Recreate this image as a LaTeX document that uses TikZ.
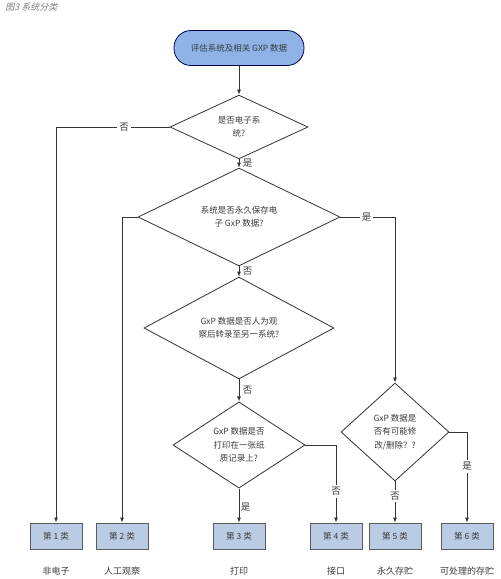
\documentclass[tikz,border=0pt]{standalone}
\usepackage{fontspec}
\setmainfont{Noto Sans CJK SC}
\newfontfamily\titlefont{Noto Sans CJK SC}[FakeSlant=0.25]
\usetikzlibrary{shapes.geometric,arrows.meta}
\definecolor{startblue}{HTML}{8FB3E6}
\definecolor{boxblue}{HTML}{BACCE4}
\definecolor{lineg}{HTML}{333333}
\definecolor{textg}{HTML}{3A3A3A}
\tikzset{
	arr/.style={-{Latex[length=5pt,width=4pt]}},
	ask/.style={diamond,draw=lineg,thick,inner sep=0pt,align=center,font=\fontsize{8.5}{13.5}\selectfont,text=textg},
	catbox/.style={rectangle,draw=lineg!80,thick,fill=boxblue,minimum width=52pt,minimum height=26pt,font=\fontsize{8.5}{10}\selectfont,text=textg},
	lbl/.style={fill=white,inner sep=2pt,font=\fontsize{9.5}{10}\selectfont,text=textg}
}
\begin{document}
\begin{tikzpicture}[x=1pt,y=-1pt,line width=0.9pt,draw=lineg]
	\useasboundingbox[fill=white] (0,0) rectangle (501,579);
	\node[anchor=north west,inner sep=0pt,text=gray,font=\titlefont\fontsize{9}{10}\selectfont] (title) at (5,2) {图3 系统分类};
	\node[draw=black!70!blue,thick,fill=startblue,rounded corners=17pt,minimum width=130pt,minimum height=35pt,font=\fontsize{8.5}{10}\selectfont,text=textg] (start) at (239,48) {评估系统及相关 GXP 数据};
	% questions
	\node[ask,minimum width=138pt,minimum height=62pt] (d1) at (239,127) {是否电子系\\统?};
	\node[ask,minimum width=202pt,minimum height=75pt] (d2) at (239,217) {系统是否永久保存电\\子 GxP 数据?};
	\node[ask,minimum width=190pt,minimum height=96pt] (d3) at (239,328) {GxP 数据是否人为观\\察后转录至另一系统?};
	\node[ask,minimum width=132pt,minimum height=86pt] (d4) at (239,445) {GxP 数据是否\\打印在一张纸\\质记录上?};
	\node[ask,minimum width=108pt,minimum height=98pt] (d5) at (395,432) {GxP 数据是\\否有可能修\\改/删除？?};
	% categories
	\foreach \n/\x/\t in {1/56/非电子,2/122/人工观察,3/239/打印,4/336/接口,5/395/永久存贮,6/467/可处理的存贮}{
		\node[catbox] (c\n) at (\x,536) {第 \n{} 类};
		\node[font=\fontsize{9}{10}\selectfont,text=textg] (t\n) at (\x,571) {\t};
	}
	% connectors
	\draw[arr] (start) -- (d1);
	\draw[arr] (d1.south) -- node[right,font=\fontsize{9.5}{10}\selectfont,text=textg]{是} (d2.north);
	\draw[arr] (d2.south) -- node[right,font=\fontsize{9.5}{10}\selectfont,text=textg]{否} (d3.north);
	\draw[arr] (d3.south) -- node[right,font=\fontsize{9.5}{10}\selectfont,text=textg]{否} (d4.north);
	\draw[arr] (d4.south) -- node[right,pos=0.55,inner sep=1.5pt,font=\fontsize{9.5}{10}\selectfont,text=textg]{是} (c3.north);
	\draw[arr] (d1.west) -- node[lbl,pos=0.4]{否} (c1.north |- d1.west) -- (c1.north);
	\draw[arr] (d2.west) -- (c2.north |- d2.west) -- (c2.north);
	\draw[arr] (d2.east) -- node[lbl,pos=0.48]{是} (d5.north |- d2.east) -- (d5.north);
	\draw[arr] (d4.east) -- (c4.north |- d4.east) -- node[lbl,pos=0.6]{否} (c4.north);
	\draw[arr] (d5.east) -- (c6.north |- d5.east) -- node[lbl,pos=0.38]{是} (c6.north);
	\draw[arr] (d5.south) -- node[lbl,pos=0.36]{否} (c5.north);
\end{tikzpicture}
\end{document}
